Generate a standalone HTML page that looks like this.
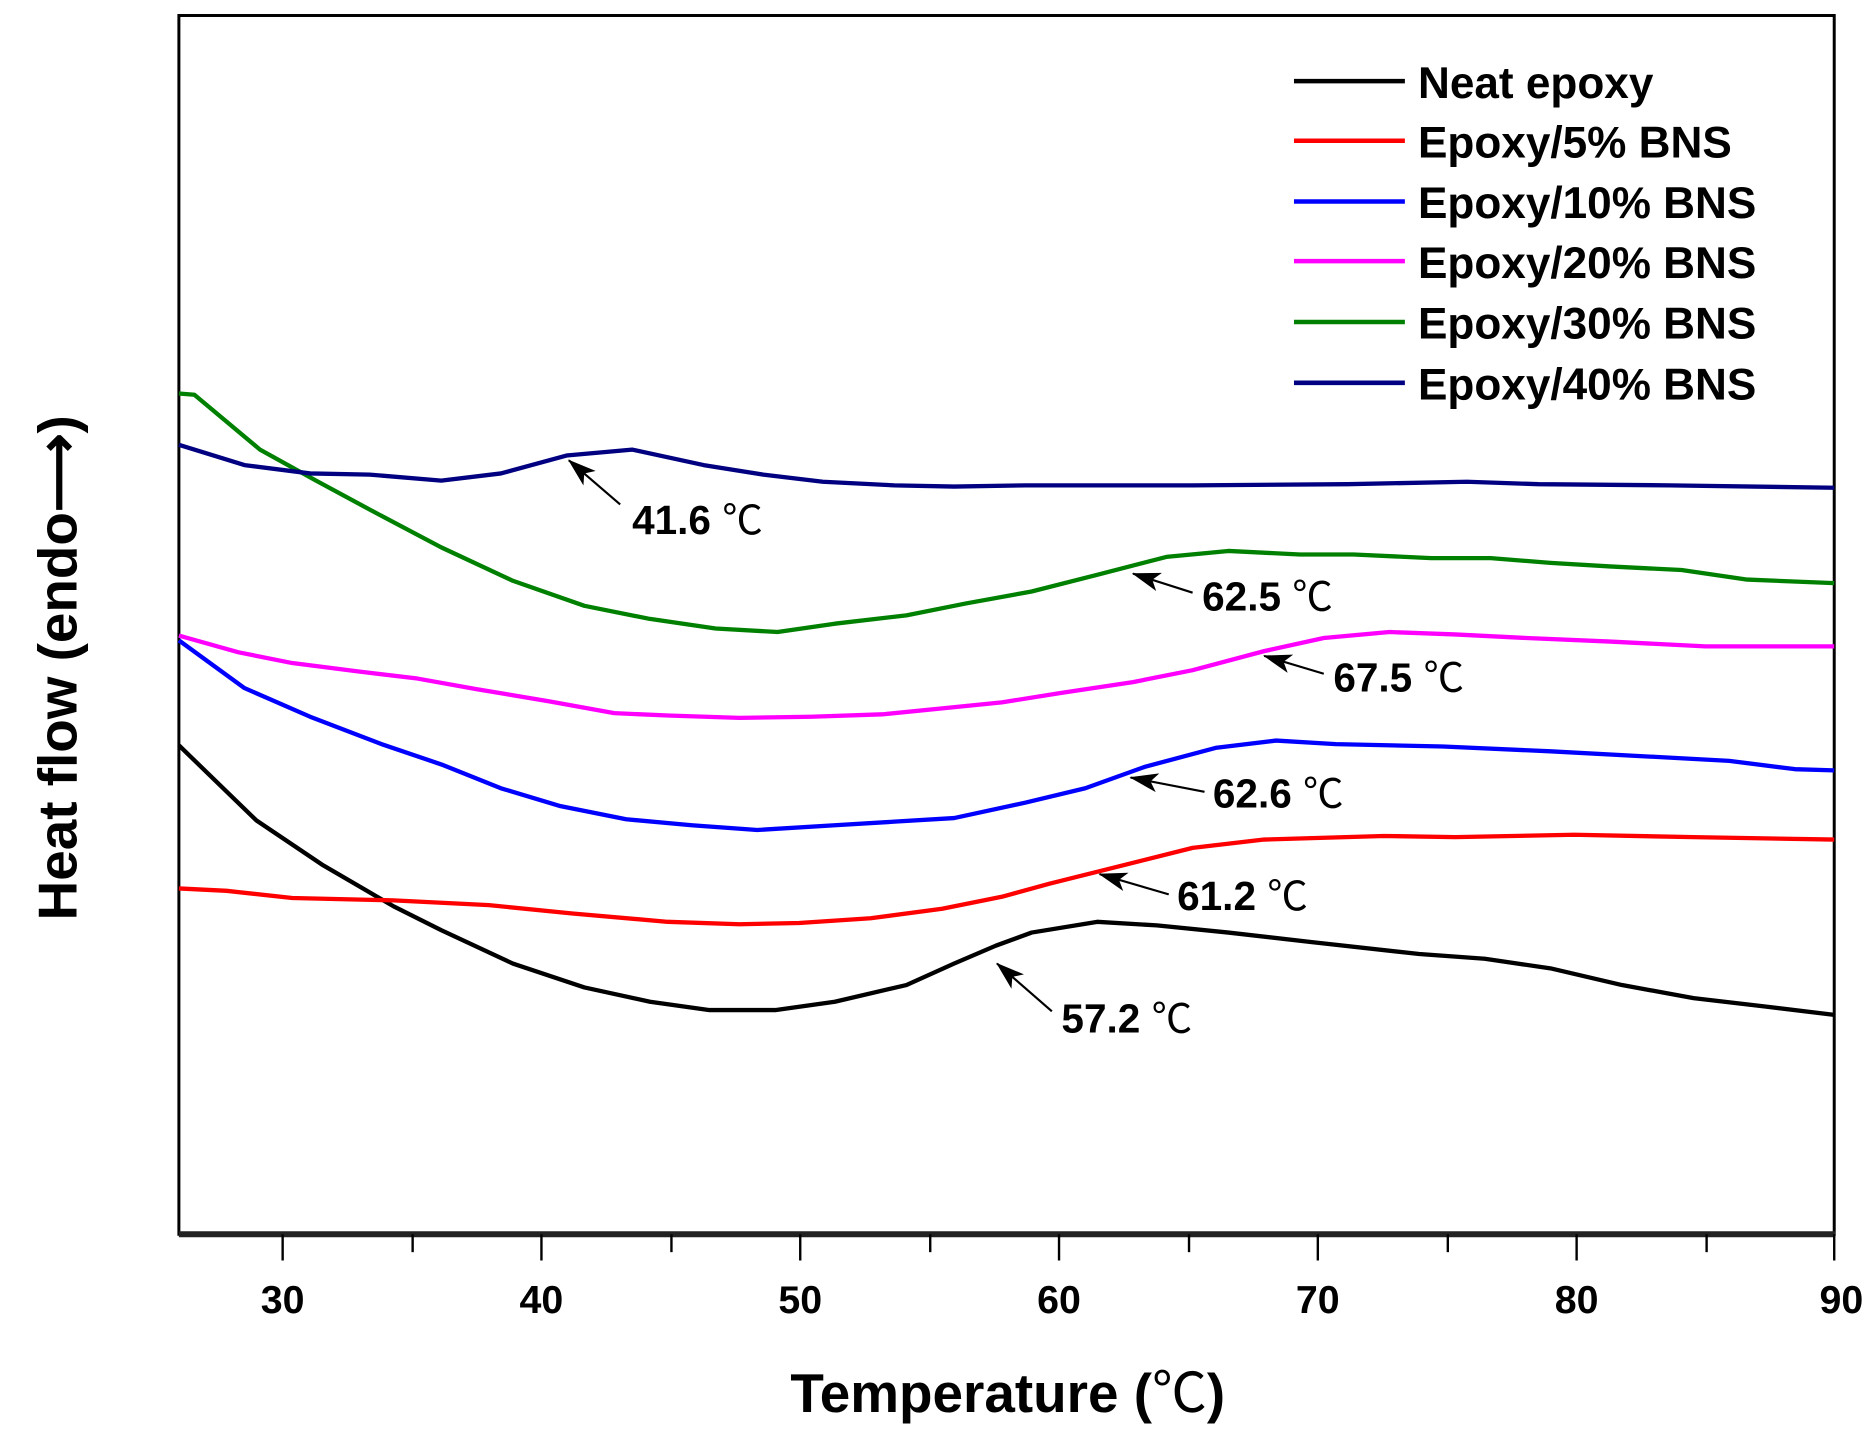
<!DOCTYPE html>
<html><head><meta charset="utf-8"><style>
html,body{margin:0;padding:0;background:#fff;width:1870px;height:1437px;overflow:hidden}
svg{display:block}
text{font-family:"Liberation Sans","Noto Sans CJK SC",sans-serif}
</style></head><body>
<svg width="1870" height="1437" viewBox="0 0 1568 1205" preserveAspectRatio="none" xmlns="http://www.w3.org/2000/svg">
<defs>
<marker id="a2" viewBox="0 0 24 16" markerWidth="24" markerHeight="16" refX="23" refY="8" orient="auto" markerUnits="userSpaceOnUse"><path d="M0,0 L24,8 L0,16 L6,8 Z" fill="#000"/></marker></defs>
<rect x="150" y="13" width="1388" height="1022" fill="none" stroke="#000" stroke-width="2.5"/>
<line x1="150" y1="1035" x2="1539" y2="1035" stroke="#222" stroke-width="5"/>
<g stroke="#000" stroke-width="2">
<line x1="237" y1="1035" x2="237" y2="1057"/><line x1="454" y1="1035" x2="454" y2="1057"/><line x1="671" y1="1035" x2="671" y2="1057"/><line x1="888" y1="1035" x2="888" y2="1057"/><line x1="1105" y1="1035" x2="1105" y2="1057"/><line x1="1322" y1="1035" x2="1322" y2="1057"/><line x1="1538" y1="1035" x2="1538" y2="1057"/>
<line x1="346" y1="1035" x2="346" y2="1050"/><line x1="563" y1="1035" x2="563" y2="1050"/><line x1="780" y1="1035" x2="780" y2="1050"/><line x1="997" y1="1035" x2="997" y2="1050"/><line x1="1214" y1="1035" x2="1214" y2="1050"/><line x1="1431" y1="1035" x2="1431" y2="1050"/>
</g>
<g font-size="33" font-weight="bold" text-anchor="middle">
<text x="237" y="1101">30</text><text x="454" y="1101">40</text><text x="671" y="1101">50</text><text x="888" y="1101">60</text><text x="1105" y="1101">70</text><text x="1322" y="1101">80</text><text x="1544" y="1101">90</text>
</g>
<text x="845" y="1184" font-size="46" font-weight="bold" text-anchor="middle">Temperature (<tspan font-weight="normal">℃</tspan>)</text>
<text transform="translate(64,560) rotate(-90)" font-size="46" font-weight="bold" text-anchor="middle">Heat flow (endo⟶)</text>
<g fill="none" stroke-width="3.6" stroke-linejoin="round">
<polyline stroke="#000" points="150,625 215,688 270,725 330,760 370,780 430,808 490,828 545,840 595,847 650,847 700,840 760,826 800,808 835,793 865,782 920,773 970,776 1030,782 1100,790 1190,800 1245,804 1300,812 1360,826 1420,837 1480,844 1538,851"/>
<polyline stroke="#ff0000" points="150,745 190,747 245,753 330,755 410,759 480,766 560,773 620,775 670,774 730,770 790,762 840,752 880,741 940,726 1000,711 1060,704 1160,701 1220,702 1320,700 1420,702 1538,704"/>
<polyline stroke="#0000ff" points="150,537 205,577 260,601 320,624 370,641 420,661 470,676 525,687 580,692 635,696 700,692 750,689 800,686 860,673 910,661 960,643 1020,627 1070,621 1120,624 1210,626 1300,630 1450,638 1505,645 1538,646"/>
<polyline stroke="#ff00ff" points="150,533 200,547 245,556 300,563 350,569 400,578 460,588 515,598 560,600 620,602 680,601 740,599 790,594 840,589 890,581 950,572 1000,562 1060,546 1110,535 1165,530 1220,532 1280,535 1350,538 1430,542 1538,542"/>
<polyline stroke="#008000" points="150,330 163,331 218,377 265,403 315,430 370,459 430,487 490,508 545,519 600,527 652,530 700,523 760,516 810,506 865,496 920,482 978,467 1030,462 1090,465 1135,465 1200,468 1250,468 1300,472 1350,475 1410,478 1465,486 1538,489"/>
<polyline stroke="#000080" points="150,373 205,390 260,397 310,398 370,403 420,397 475,382 530,377 590,390 640,398 690,404 750,407 800,408 860,407 1000,407 1130,406 1230,404 1290,406 1400,407 1538,409"/>
</g>
<g stroke-width="3.8">
<line x1="1085" y1="68" x2="1178" y2="68" stroke="#000"/>
<line x1="1085" y1="118" x2="1178" y2="118" stroke="#ff0000"/>
<line x1="1085" y1="169" x2="1178" y2="169" stroke="#0000ff"/>
<line x1="1085" y1="219" x2="1178" y2="219" stroke="#ff00ff"/>
<line x1="1085" y1="270" x2="1178" y2="270" stroke="#008000"/>
<line x1="1085" y1="321" x2="1178" y2="321" stroke="#000080"/>
</g>
<g font-size="37" font-weight="bold">
<text x="1189" y="82">Neat epoxy</text>
<text x="1189" y="132">Epoxy/5% BNS</text>
<text x="1189" y="183">Epoxy/10% BNS</text>
<text x="1189" y="233">Epoxy/20% BNS</text>
<text x="1189" y="284">Epoxy/30% BNS</text>
<text x="1189" y="335">Epoxy/40% BNS</text>
</g>
<g stroke="#000" stroke-width="1.8" marker-end="url(#a2)">
<line x1="520" y1="423" x2="477" y2="386"/>
<line x1="1000" y1="497" x2="950" y2="481"/>
<line x1="1110" y1="565" x2="1060" y2="550"/>
<line x1="1010" y1="664" x2="948" y2="652"/>
<line x1="980" y1="750" x2="922" y2="733"/>
<line x1="882" y1="848" x2="836" y2="808"/>
</g>
<g font-size="34" font-weight="bold">
<text x="530" y="448">41.6 <tspan font-weight="normal">℃</tspan></text>
<text x="1008" y="512">62.5 <tspan font-weight="normal">℃</tspan></text>
<text x="1118" y="580">67.5 <tspan font-weight="normal">℃</tspan></text>
<text x="1017" y="677">62.6 <tspan font-weight="normal">℃</tspan></text>
<text x="987" y="763">61.2 <tspan font-weight="normal">℃</tspan></text>
<text x="890" y="866">57.2 <tspan font-weight="normal">℃</tspan></text>
</g>
</svg>
</body></html>
